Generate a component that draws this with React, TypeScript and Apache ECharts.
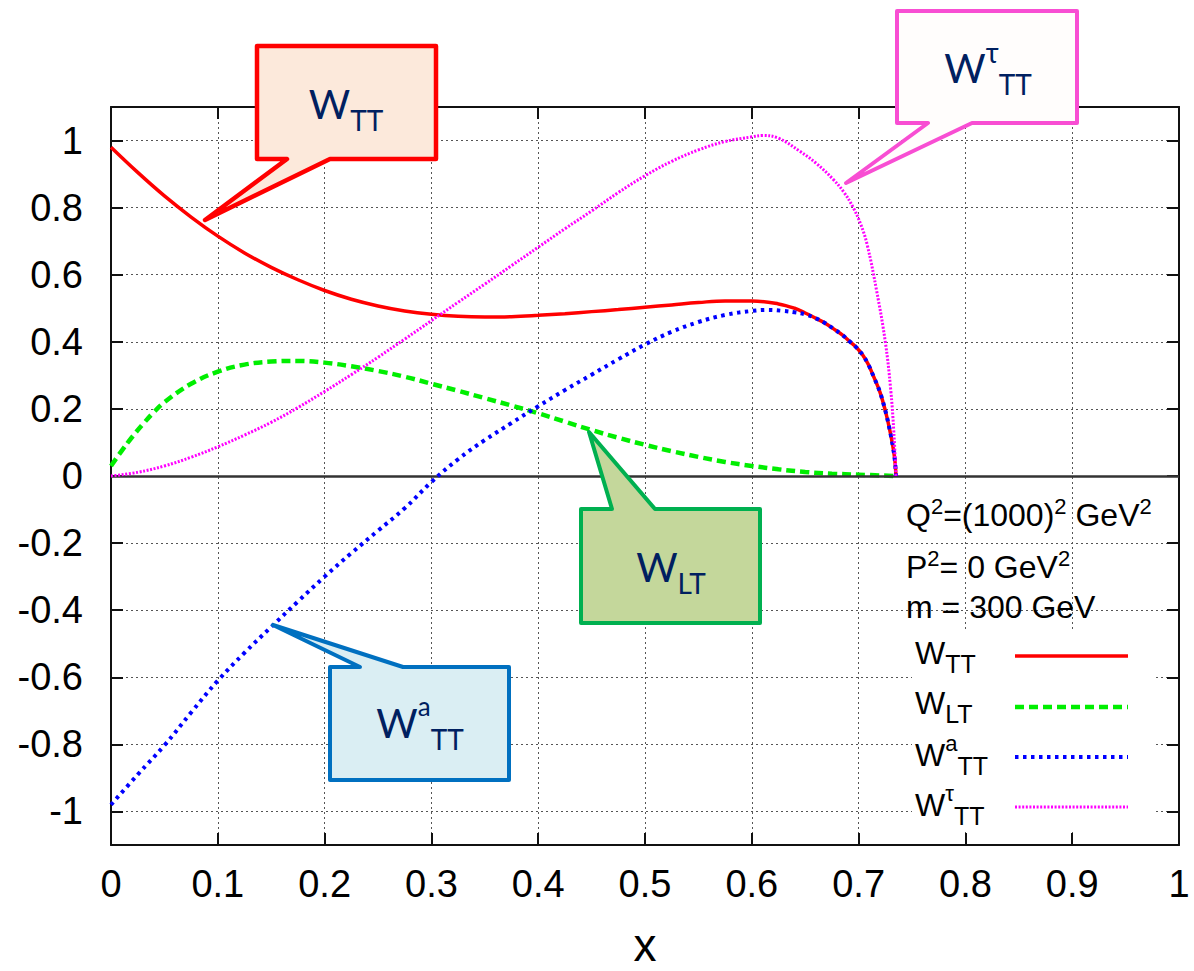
import React, { useEffect, useRef } from "react";
import * as echarts from "echarts";

// ---------- data ----------
const xTicks = [0, 0.1, 0.2, 0.3, 0.4, 0.5, 0.6, 0.7, 0.8, 0.9, 1];
const xTickLabels = ["0", "0.1", "0.2", "0.3", "0.4", "0.5", "0.6", "0.7", "0.8", "0.9", "1"];
const yTicks = [-1, -0.8, -0.6, -0.4, -0.2, 0, 0.2, 0.4, 0.6, 0.8, 1];
const yTickLabels = ["-1", "-0.8", "-0.6", "-0.4", "-0.2", "0", "0.2", "0.4", "0.6", "0.8", "1"];

const wttX = [0, 0.025, 0.05, 0.075, 0.1, 0.125, 0.15, 0.175, 0.2, 0.225, 0.25, 0.275, 0.3, 0.325, 0.35, 0.375, 0.4, 0.425, 0.45, 0.475, 0.5, 0.525, 0.55, 0.575, 0.6, 0.625, 0.64, 0.65, 0.66, 0.668, 0.676, 0.685, 0.692, 0.698, 0.704, 0.709, 0.714, 0.72, 0.725, 0.729, 0.732, 0.734, 0.735];
const wttY = [0.98, 0.905, 0.835, 0.772, 0.715, 0.665, 0.622, 0.585, 0.553, 0.527, 0.507, 0.492, 0.482, 0.476, 0.474, 0.475, 0.479, 0.484, 0.49, 0.496, 0.503, 0.51, 0.517, 0.522, 0.522, 0.513, 0.5, 0.486, 0.47, 0.457, 0.44, 0.42, 0.4, 0.383, 0.36, 0.333, 0.297, 0.25, 0.195, 0.14, 0.09, 0.045, 0];

const wltX = [0, 0.01, 0.02, 0.03, 0.04, 0.05, 0.075, 0.1, 0.125, 0.15, 0.175, 0.2, 0.225, 0.25, 0.275, 0.3, 0.325, 0.35, 0.375, 0.4, 0.425, 0.45, 0.475, 0.5, 0.525, 0.55, 0.575, 0.6, 0.625, 0.65, 0.675, 0.7, 0.735];
const wltY = [0.03, 0.075, 0.117, 0.155, 0.19, 0.22, 0.275, 0.311, 0.332, 0.341, 0.343, 0.338, 0.327, 0.313, 0.296, 0.275, 0.254, 0.232, 0.21, 0.187, 0.162, 0.137, 0.114, 0.093, 0.074, 0.057, 0.042, 0.03, 0.02, 0.012, 0.007, 0.004, 0];

const waX = [0, 0.025, 0.05, 0.075, 0.1, 0.125, 0.15, 0.175, 0.2, 0.225, 0.25, 0.275, 0.3, 0.325, 0.35, 0.375, 0.4, 0.425, 0.45, 0.475, 0.5, 0.525, 0.55, 0.575, 0.6, 0.615, 0.63, 0.64, 0.65, 0.66, 0.668, 0.676, 0.685, 0.692, 0.698, 0.704, 0.709, 0.714, 0.72, 0.725, 0.729, 0.732, 0.734, 0.735];
const waY = [-0.98, -0.89, -0.803, -0.705, -0.61, -0.527, -0.45, -0.374, -0.3, -0.23, -0.163, -0.096, -0.018, 0.05, 0.107, 0.158, 0.208, 0.256, 0.302, 0.348, 0.392, 0.43, 0.459, 0.48, 0.492, 0.495, 0.492, 0.488, 0.482, 0.47, 0.457, 0.44, 0.42, 0.4, 0.383, 0.36, 0.333, 0.297, 0.25, 0.195, 0.14, 0.09, 0.045, 0];

const wtauX = [0, 0.025, 0.05, 0.075, 0.1, 0.125, 0.15, 0.175, 0.2, 0.225, 0.25, 0.275, 0.3, 0.325, 0.35, 0.375, 0.4, 0.425, 0.45, 0.475, 0.5, 0.525, 0.55, 0.575, 0.6, 0.61, 0.625, 0.645, 0.66, 0.676, 0.686, 0.695, 0.702, 0.708, 0.717, 0.725, 0.73, 0.733, 0.735];
const wtauY = [0, 0.011, 0.03, 0.056, 0.087, 0.122, 0.16, 0.204, 0.252, 0.302, 0.354, 0.408, 0.463, 0.518, 0.572, 0.627, 0.682, 0.737, 0.79, 0.845, 0.895, 0.938, 0.972, 0.997, 1.011, 1.015, 1.007, 0.968, 0.933, 0.885, 0.847, 0.8, 0.75, 0.69, 0.55, 0.4, 0.26, 0.13, 0];

const annotationLines = ["Q{s|2}=(1000){s|2} GeV{s|2}", "P{s|2}= 0 GeV{s|2}", "m = 300 GeV"];
const legendLabels = ["{w|W}{sub|TT}", "{w|W}{sub|LT}", "{w|W}{sup|a}{sub|TT}", "{w|W}{sup|τ}{sub|TT}"];

// ---------- styles ----------
const ARIAL = '"Liberation Sans", Arial, sans-serif';
const CALLOUT_FONT = 'Lato, "Open Sans", sans-serif';
const NAVY = "#002060";

const seriesStyles = [
  { name: "W_TT", color: "#ff0000", width: 3.5, dash: "solid" as any },
  { name: "W_LT", color: "#00ee00", width: 4.5, dash: [9, 5] },
  { name: "Wa_TT", color: "#0000ff", width: 4, dash: [3.5, 4.5] },
  { name: "Wtau_TT", color: "#ff00ff", width: 3, dash: [2, 1.6] },
];

const seriesData = [
  [wttX, wttY],
  [wltX, wltY],
  [waX, waY],
  [wtauX, wtauY],
];

const calloutRich = {
  w: { fontSize: 40, lineHeight: 60, fontFamily: CALLOUT_FONT, fill: NAVY, verticalAlign: "middle" },
  sub: { fontSize: 28, lineHeight: 26, fontFamily: CALLOUT_FONT, fill: NAVY, verticalAlign: "bottom" },
  sup: { fontSize: 28, lineHeight: 40, fontFamily: CALLOUT_FONT, fill: NAVY, verticalAlign: "top" },
  supa: { fontSize: 26, lineHeight: 52, fontFamily: CALLOUT_FONT, fill: NAVY, verticalAlign: "top" },
};

const callouts = [
  {
    points: [[257, 46], [436, 46], [436, 159], [330, 159], [205, 220], [287, 159], [257, 159]],
    fill: "#fce9db", stroke: "#ff0000", lw: 4.5,
    text: "{w|W}{sub|TT}", tx: 346, ty: 104,
  },
  {
    points: [[897, 11], [1077, 11], [1077, 123], [972, 123], [846, 183], [928, 123], [897, 123]],
    fill: "#fffdfc", stroke: "#f84ed3", lw: 4,
    text: "{w|W}{sup|τ}{sub|TT}", tx: 988, ty: 68,
  },
  {
    points: [[581, 509], [612, 509], [589, 432], [655, 509], [760, 509], [760, 623], [581, 623]],
    fill: "#c4d79b", stroke: "#00b050", lw: 4,
    text: "{w|W}{sub|LT}", tx: 671, ty: 567,
  },
  {
    points: [[330, 667], [360, 667], [273, 625], [403, 667], [509, 667], [509, 780], [330, 780]],
    fill: "#daeef3", stroke: "#0070c0", lw: 4,
    text: "{w|W}{supa|a}{sub|TT}", tx: 420, ty: 723,
  },
];

const legendRich = {
  w: { fontSize: 32, lineHeight: 46, fontFamily: ARIAL, fill: "#000", verticalAlign: "middle" },
  sub: { fontSize: 25, lineHeight: 24, fontFamily: ARIAL, fill: "#000", verticalAlign: "bottom" },
  sup: { fontSize: 22, lineHeight: 28, fontFamily: ARIAL, fill: "#000", verticalAlign: "top" },
};
const annRich = {
  m: { fontSize: 32, lineHeight: 40, fontFamily: ARIAL, fill: "#000", verticalAlign: "middle" },
  s: { fontSize: 22, lineHeight: 18, fontFamily: ARIAL, fill: "#000", verticalAlign: "top" },
};

function wrapAnn(t: string) {
  const parts = t.split(/(\{s\|[^}]*\})/);
  return parts.filter((p) => p.length).map((p) => (p.startsWith("{s|") ? p : `{m|${p}}`)).join("");
}

const annYs = [515, 567, 607];
const legendYs = [653, 703, 755, 805];
const legendLineYs = [656, 707, 757, 807];

function fmt(ticks: number[], labels: string[]) {
  return (v: number) => {
    const i = ticks.findIndex((t) => Math.abs(t - v) < 1e-6);
    return i >= 0 ? labels[i] : "";
  };
}

export default function App() {
  const ref = useRef<HTMLDivElement>(null);
  useEffect(() => {
    if (!ref.current) return;
    const chart = echarts.init(ref.current, null, { renderer: "svg" });

    const frameLine = { show: true, onZero: false, lineStyle: { color: "#111", width: 2 } };
    const innerTick = { show: true, inside: true, length: 12, lineStyle: { color: "#111", width: 2 } };
    const gridLine = { show: true, lineStyle: { color: "#555", width: 1, type: [2, 3] } };

    const graphics: any[] = [];
    graphics.push({
      type: "rect", z: 5, shape: { x: 912, y: 630, width: 241, height: 202 },
      style: { fill: "#fff" }, silent: true,
    });
    annotationLines.forEach((t, i) => {
      graphics.push({
        type: "text", z: 10, x: 906, y: annYs[i],
        style: { text: wrapAnn(t), rich: annRich, align: "left", verticalAlign: "middle", fill: "#000" },
      });
    });
    legendLabels.forEach((t, i) => {
      const s = seriesStyles[i];
      graphics.push({
        type: "text", z: 10, x: 915, y: legendYs[i],
        style: { text: t, rich: legendRich, align: "left", verticalAlign: "middle", fill: "#000" },
      });
      graphics.push({
        type: "line", z: 10,
        shape: { x1: 1015, y1: legendLineYs[i], x2: 1128, y2: legendLineYs[i] },
        style: {
          stroke: s.color, lineWidth: s.width,
          lineDash: Array.isArray(s.dash) ? s.dash : null,
        },
      });
    });
    callouts.forEach((c) => {
      graphics.push({
        type: "polygon", z: 20,
        shape: { points: c.points },
        style: { fill: c.fill, stroke: c.stroke, lineWidth: c.lw, lineJoin: "round" },
      });
      graphics.push({
        type: "text", z: 21, x: c.tx, y: c.ty,
        style: { text: c.text, rich: calloutRich, align: "center", verticalAlign: "middle", fill: NAVY },
      });
    });

    const option: any = {
      animation: false,
      backgroundColor: "#fff",
      textStyle: { fontFamily: ARIAL },
      grid: { left: 111, right: 15, top: 107, bottom: 126, containLabel: false, outerBoundsMode: "none" },
      xAxis: [
        {
          type: "value", min: 0, max: 1, interval: 0.1, position: "bottom",
          axisLine: frameLine, axisTick: innerTick,
          axisLabel: { show: true, fontSize: 38, color: "#000", margin: 20, fontFamily: ARIAL, formatter: fmt(xTicks, xTickLabels) },
          splitLine: gridLine,
          name: "x", nameLocation: "middle", nameGap: 82,
          nameTextStyle: { fontSize: 46, lineHeight: 36, color: "#000", fontFamily: ARIAL },
        },
        {
          type: "value", min: 0, max: 1, interval: 0.1, position: "top",
          axisLine: frameLine, axisTick: innerTick, axisLabel: { show: false }, splitLine: { show: false },
        },
      ],
      yAxis: [
        {
          type: "value", min: -1.1, max: 1.1, position: "left",
          axisLine: frameLine,
          axisTick: { ...innerTick, customValues: yTicks },
          axisLabel: { show: true, customValues: yTicks, fontSize: 38, color: "#000", margin: 28, fontFamily: ARIAL, formatter: fmt(yTicks, yTickLabels) },
          splitLine: gridLine,
        },
        {
          type: "value", min: -1.1, max: 1.1, position: "right",
          axisLine: frameLine,
          axisTick: { ...innerTick, customValues: yTicks },
          axisLabel: { show: false, customValues: yTicks },
          splitLine: { show: false },
        },
      ],
      series: seriesStyles.map((s, i) => ({
        name: s.name,
        type: "line",
        xAxisIndex: 0,
        yAxisIndex: 0,
        data: seriesData[i][0].map((x, j) => [x, seriesData[i][1][j]]),
        symbol: "none",
        showSymbol: false,
        smooth: 0.4,
        lineStyle: { color: s.color, width: s.width, type: s.dash, cap: "butt" },
        z: 3 + i,
        markLine: i === 0 ? {
          silent: true, symbol: "none", label: { show: false },
          lineStyle: { color: "#333", width: 2.5, type: "solid" },
          data: [{ yAxis: 0 }],
        } : undefined,
      })),
      graphic: graphics,
    };
    chart.setOption(option);
    return () => chart.dispose();
  }, []);
  return (
    <div
      ref={ref}
      style={{ position: "absolute", left: 0, top: 0, width: 1194, height: 971, background: "#fff" }}
    />
  );
}
